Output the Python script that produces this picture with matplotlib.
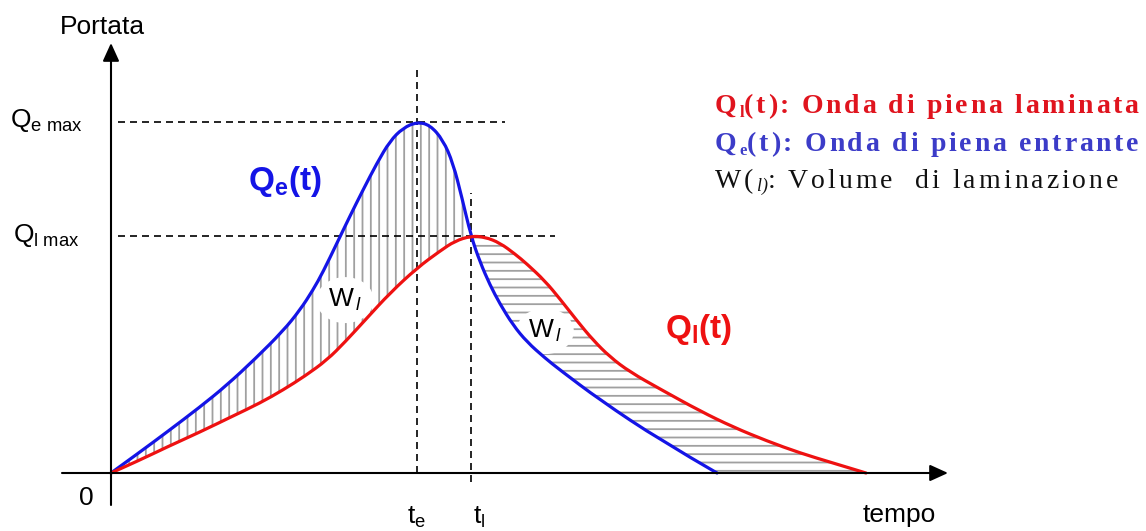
import numpy as np
import matplotlib
matplotlib.use("Agg")
import matplotlib.pyplot as plt
from matplotlib.path import Path
from matplotlib.patches import PathPatch

# Inflow hydrograph Qe(t): (time, discharge) in drawing units
t_in = np.array([0, 29, 56, 89, 116, 144, 172, 189, 202, 212, 226, 239, 252,
                 266, 279, 292, 306, 319, 332, 342, 351, 360, 369, 379, 389, 402,
                 416, 434, 449, 489, 549, 606])
q_in = np.array([0, 21, 41, 66, 88, 114, 142, 163, 183, 201, 230, 257, 283,
                 310, 332, 345, 351, 348, 333, 310, 275, 237, 211, 188, 169, 148,
                 131, 115, 103, 73, 33, 0])

# Routed (laminated) hydrograph Ql(t)
t_out = np.array([0, 29, 56, 89, 122, 149, 172, 194, 216, 234, 256, 279, 306, 329,
                  344, 360, 374, 389, 404, 416, 434, 449, 467, 482, 499, 519, 549,
                  589, 622, 656, 689, 722, 755])
q_out = np.array([0, 13, 26, 41, 57, 70, 83, 97, 113, 131, 155, 180, 205, 222,
                  232, 237, 236, 230, 219, 209, 192, 174, 151, 133, 116, 101, 84,
                  62, 46, 32, 20, 10, 0])

legend_lines = ["Q", "l", "(t): Onda di piena laminata"]
legend_lines2 = ["Q", "e", "(t): Onda di piena entrante"]
legend_lines3 = ["W(", "l)", ": Volume  di laminazione"]

plt.rcParams["font.family"] = "Liberation Sans"
plt.rcParams["mathtext.fontset"] = "custom"
plt.rcParams["mathtext.rm"] = "Liberation Sans"
plt.rcParams["mathtext.it"] = "Liberation Sans:italic"
plt.rcParams["mathtext.bf"] = "Liberation Sans:bold"
plt.rcParams["hatch.linewidth"] = 1.3

BLUE = "#1414e6"
RED = "#ee1111"
HATCH = "#a0a0a0"

fig = plt.figure(figsize=(11.46, 5.31), dpi=100)
ax = fig.add_axes([0, 0, 1, 1])
ax.set_xlim(-111, 1035)
ax.set_ylim(-58, 473)
ax.axis("off")


def smooth(x, y):
    """Quadratic spline path through the midpoints of the given points."""
    pts = np.column_stack([x, y]).astype(float)
    n = len(pts)
    verts = [pts[0]]
    codes = [Path.MOVETO]
    for i in range(1, n - 1):
        end = pts[-1] if i == n - 2 else (pts[i] + pts[i + 1]) / 2
        verts += [pts[i], end]
        codes += [Path.CURVE3, Path.CURVE3]
    return verts, codes


def joined(*parts):
    verts, codes = [], []
    for i, (v, c) in enumerate(parts):
        verts += v
        codes += c if i == 0 else [Path.LINETO] + c[1:]
    verts.append(verts[0])
    codes.append(Path.CLOSEPOLY)
    return Path(verts, codes)


# peaks and crossing point
k_e = int(np.argmax(q_in))
k_l = int(np.argmax(q_out))
te, qe_max = t_in[k_e], q_in[k_e]
tl, ql_max = t_out[k_l], q_out[k_l]
k_cross = int(np.where(t_in == tl)[0][0])

# hatched volumes between the two hydrographs
left = joined(smooth(t_in[:k_cross + 1], q_in[:k_cross + 1]),
              smooth(t_out[:k_l + 1][::-1], q_out[:k_l + 1][::-1]))
ax.add_patch(PathPatch(left, facecolor="none", edgecolor=HATCH, hatch="||",
                       linewidth=0, zorder=1))
right = joined(smooth(t_out[k_l:], q_out[k_l:]),
               smooth(t_in[k_cross:][::-1], q_in[k_cross:][::-1]))
ax.add_patch(PathPatch(right, facecolor="none", edgecolor=HATCH, hatch="--",
                       linewidth=0, zorder=1))

# reference lines
dash = dict(color="black", lw=1.2, dashes=(4.2, 3.0), zorder=2)
ax.plot([7, 394], [qe_max, qe_max], **dash)
ax.plot([7, 444], [ql_max, ql_max], **dash)
ax.plot([te, te], [0, 403], **dash)
ax.plot([tl, tl], [-9, 280], **dash)

# hydrographs
for t, q, c in [(t_in, q_in, BLUE), (t_out, q_out, RED)]:
    ax.add_patch(PathPatch(Path(*smooth(t, q)), fill=False, edgecolor=c,
                           lw=2.3, capstyle="round", zorder=3))

# axes with arrow heads
arrow = dict(arrowstyle="-|>,head_length=0.55,head_width=0.25", lw=1.5,
             color="black", shrinkA=0, shrinkB=0, mutation_scale=20)
ax.annotate("", xy=(837, 0), xytext=(-49, 0), arrowprops=arrow, zorder=4)
ax.annotate("", xy=(0, 430), xytext=(0, -32), arrowprops=arrow, zorder=4)

# axis labels
ax.text(-9, 446, "Portata", ha="center", va="center", fontsize=19)
ax.text(752, -49, "tempo", ha="left", va="baseline", fontsize=19)
ax.text(-25, -25, "0", ha="center", va="center", fontsize=19)
ax.text(-101, 346, r"$\mathrm{Q_{e\ max}}$", ha="left", va="baseline", fontsize=19)
ax.text(-98, 231, r"$\mathrm{Q_{l\ max}}$", ha="left", va="baseline", fontsize=19)
ax.text(296, -51, r"$\mathrm{t_e}$", ha="left", va="baseline", fontsize=19)
ax.text(362, -51, r"$\mathrm{t_l}$", ha="left", va="baseline", fontsize=19)

# curve labels
ax.text(137, 283, r"$\mathbf{Q_e(t)}$", color=BLUE, ha="left", va="baseline",
        fontsize=24)
ax.text(554, 135, r"$\mathbf{Q_l(t)}$", color=RED, ha="left", va="baseline",
        fontsize=24)

wbox = dict(boxstyle="ellipse,pad=0.12", fc="white", ec="none")
ax.text(217, 166, r"$\mathrm{W}_{\,\mathit{l}}$", ha="left", va="baseline",
        fontsize=19, bbox=wbox, zorder=2)
ax.text(417, 135, r"$\mathrm{W}_{\,\mathit{l}}$", ha="left", va="baseline",
        fontsize=19, bbox=wbox, zorder=2)


def tracked_text(x0, x1, y, pieces, color, weight):
    """Write a serif line letter by letter, spreading it from x0 to x1."""
    r = fig.canvas.get_renderer()
    glyphs = [(ch, size, style, dy) for s, size, style, dy in pieces for ch in s]

    def width(s, size, style):
        t = ax.text(0, 0, s, fontsize=size, family="Liberation Serif",
                    weight=weight, style=style)
        w = t.get_window_extent(r).width
        t.remove()
        return w

    adv = [width(ch + "|", size, style) - width("|", size, style)
           for ch, size, style, dy in glyphs]
    # small raised/lowered glyphs are kept tight to their neighbours
    spread = [0.0 if dy else 1.0 for ch, size, style, dy in glyphs[:-1]]
    last = glyphs[-1]
    natural = sum(adv[:-1]) + width(last[0], last[1], last[2])
    track = (x1 - x0 - natural) / sum(spread)
    x = x0
    for i, ((ch, size, style, dy), a) in enumerate(zip(glyphs, adv)):
        if ch != " ":
            ax.text(x, y + dy, ch, fontsize=size, family="Liberation Serif",
                    weight=weight, style=style, color=color, ha="left",
                    va="baseline")
        if i < len(spread):
            x += a + track * spread[i]


tracked_text(604, 1027, 360,
             [(legend_lines[0], 20, "normal", 0), (legend_lines[1], 12, "normal", -4),
              (legend_lines[2], 20, "normal", 0)], "#e0141e", "bold")
tracked_text(604, 1027, 322,
             [(legend_lines2[0], 20, "normal", 0), (legend_lines2[1], 12, "normal", -4),
              (legend_lines2[2], 20, "normal", 0)], "#3c3cc8", "bold")
tracked_text(604, 1007, 285,
             [(legend_lines3[0], 20, "normal", 0), (legend_lines3[1], 13, "italic", -3),
              (legend_lines3[2], 20, "normal", 0)], "#111111", "normal")

fig.savefig("out.png", dpi=100)
